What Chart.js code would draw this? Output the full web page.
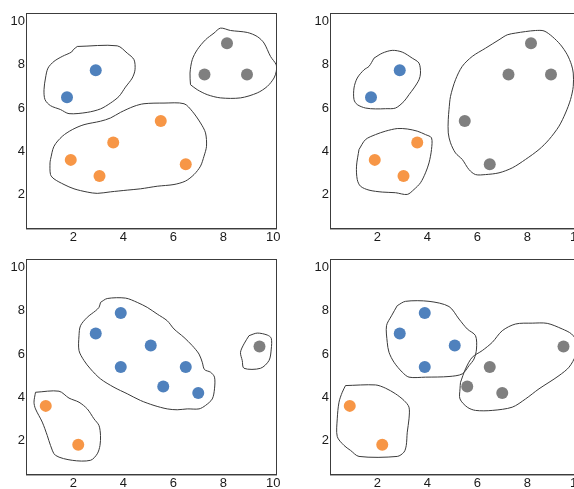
<!DOCTYPE html>
<html>
<head>
<meta charset="utf-8">
<script src="https://cdn.jsdelivr.net/npm/chart.js@4.4.0/dist/chart.umd.min.js"></script>
<style>
  html, body { margin: 0; padding: 0; background: #ffffff; overflow: hidden; width: 574px; height: 489px; }
  .panel { position: absolute; width: 290px; height: 262px; }
</style>
</head>
<body>
<div class="panel" style="left:0px;top:0px;"><canvas id="c1" width="290" height="262"></canvas></div>
<div class="panel" style="left:304px;top:0px;"><canvas id="c2" width="290" height="262"></canvas></div>
<div class="panel" style="left:0px;top:246px;"><canvas id="c3" width="290" height="262"></canvas></div>
<div class="panel" style="left:304px;top:246px;"><canvas id="c4" width="290" height="262"></canvas></div>
<script>
// ---------- tick labels ----------
const xTicks = [2, 4, 6, 8, 10];
const yTicks = [2, 4, 6, 8, 10];

// ---------- series colours ----------
const blueColor = '#4F81BD';
const orangeColor = '#F79646';
const greyColor = '#7F7F7F';

// ---------- panel 1 (top-left) points ----------
const p1Blue = [[1.75, 6.5], [2.9, 7.75]];
const p1Orange = [[5.5, 5.4], [3.6, 4.4], [1.9, 3.6], [3.05, 2.85], [6.5, 3.4]];
const p1Grey = [[8.15, 9.0], [7.25, 7.55], [8.95, 7.55]];

// ---------- panel 2 (top-right) points ----------
const p2Blue = [[1.75, 6.5], [2.9, 7.75]];
const p2Orange = [[1.9, 3.6], [3.05, 2.85], [3.6, 4.4]];
const p2Grey = [[5.5, 5.4], [6.5, 3.4], [7.25, 7.55], [8.15, 9.0], [8.95, 7.55]];

// ---------- panel 3 (bottom-left) points ----------
const p3Blue = [[2.9, 6.95], [3.9, 7.9], [5.1, 6.4], [3.9, 5.4], [6.5, 5.4], [5.6, 4.5], [7.0, 4.2]];
const p3Orange = [[0.9, 3.6], [2.2, 1.8]];
const p3Grey = [[9.45, 6.35]];

// ---------- panel 4 (bottom-right) points ----------
const p4Blue = [[2.9, 6.95], [3.9, 7.9], [5.1, 6.4], [3.9, 5.4]];
const p4Orange = [[0.9, 3.6], [2.2, 1.8]];
const p4Grey = [[6.5, 5.4], [5.6, 4.5], [7.0, 4.2], [9.45, 6.35]];

// ---------- cluster outlines ----------
const h1Blue = [[2.16,8.85],[3.76,8.88],[4.16,8.54],[4.43,8.24],[4.47,7.77],[4.36,7.39],[4.09,6.97],[3.83,6.54],[3.49,6.23],[3.09,5.96],[2.56,5.80],[1.83,5.74],[1.49,5.93],[1.09,6.11],[0.87,6.39],[0.83,6.85],[0.89,7.39],[0.99,7.85],[1.23,8.16],[1.56,8.39],[1.93,8.59],[2.0,8.70]];
const h1Orange = [[1.09,3.62],[1.23,4.23],[1.56,4.69],[1.96,5.00],[2.43,5.23],[3.09,5.39],[3.49,5.54],[3.89,5.80],[4.43,6.08],[4.83,6.20],[5.63,6.23],[6.43,6.20],[6.76,5.85],[7.09,5.31],[7.29,4.85],[7.33,4.23],[7.23,3.77],[7.09,3.31],[6.83,2.92],[6.49,2.62],[6.03,2.46],[5.36,2.38],[4.69,2.26],[4.16,2.20],[3.49,2.12],[2.96,2.05],[2.56,2.11],[2.03,2.26],[1.63,2.46],[1.23,2.72],[1.09,2.92],[1.07,3.46]];
const h1Grey = [[6.69,7.08],[6.67,7.62],[6.76,8.24],[6.96,8.70],[7.29,9.16],[7.63,9.47],[7.89,9.70],[8.29,9.59],[8.96,9.50],[9.36,9.31],[9.63,9.01],[9.89,8.39],[10.12,8.00],[10.12,7.70],[10.03,7.39],[9.76,7.00],[9.36,6.70],[8.69,6.47],[7.89,6.47],[7.36,6.62],[6.96,6.85]];

const h2Blue = [[1.87,8.31],[2.20,8.54],[2.60,8.67],[3.00,8.59],[3.40,8.31],[3.67,8.08],[3.73,7.62],[3.67,7.31],[3.47,6.93],[3.27,6.62],[3.07,6.31],[2.73,6.00],[2.33,5.97],[1.93,5.96],[1.53,6.00],[1.20,6.16],[1.07,6.39],[1.07,6.93],[1.20,7.39],[1.47,7.77],[1.67,7.93]];
const h2Orange = [[1.27,4.08],[1.53,4.54],[1.93,4.77],[2.33,4.93],[2.80,5.05],[3.20,5.03],[3.60,4.93],[3.93,4.77],[4.17,4.62],[4.17,4.08],[4.07,3.46],[3.93,3.00],[3.73,2.54],[3.47,2.23],[3.20,2.00],[2.73,2.08],[2.20,2.11],[1.67,2.20],[1.33,2.38],[1.20,2.69],[1.17,3.31]];
const h2Grey = [[4.87,5.93],[4.93,6.54],[5.13,7.31],[5.40,7.93],[5.80,8.39],[6.33,8.77],[6.87,9.16],[7.20,9.39],[7.53,9.47],[7.93,9.54],[8.33,9.59],[8.67,9.57],[9.00,9.31],[9.33,8.93],[9.60,8.47],[9.77,8.00],[9.84,7.62],[9.84,7.00],[9.73,6.39],[9.53,5.77],[9.27,5.16],[8.87,4.54],[8.47,4.08],[7.93,3.62],[7.40,3.23],[6.87,3.00],[6.33,2.92],[5.93,2.92],[5.67,3.15],[5.40,3.62],[5.13,3.92],[4.93,4.39],[4.84,4.85],[4.84,5.46]];

const h3Blue = [[3.09,8.39],[3.36,8.57],[4.09,8.59],[4.56,8.39],[4.96,8.16],[5.36,7.85],[5.76,7.54],[6.03,7.16],[6.43,6.77],[6.76,6.39],[7.03,6.00],[7.16,5.62],[7.25,5.28],[7.49,5.16],[7.65,4.93],[7.65,4.39],[7.56,3.92],[7.29,3.62],[7.03,3.46],[6.56,3.46],[6.16,3.42],[5.76,3.46],[5.23,3.62],[4.69,3.85],[4.16,4.16],[3.63,4.46],[3.09,4.85],[2.69,5.31],[2.43,5.70],[2.23,6.16],[2.23,6.85],[2.29,7.31],[2.56,7.70],[2.89,8.00],[3.03,8.16]];
const h3Orange = [[0.49,4.23],[1.43,4.28],[1.83,3.96],[2.23,3.77],[2.56,3.46],[2.83,3.00],[3.03,2.69],[3.09,2.23],[3.07,1.77],[2.96,1.38],[2.69,1.08],[1.96,1.08],[1.29,1.31],[1.09,1.77],[0.96,2.23],[0.76,2.85],[0.49,3.46],[0.43,3.77]];
const h3Grey = [[9.03,6.85],[9.36,6.97],[9.76,6.88],[9.92,6.73],[9.92,6.23],[9.83,5.70],[9.49,5.34],[8.83,5.34],[8.76,5.70],[8.69,6.08],[8.83,6.47]];

const h4Blue = [[2.80,8.24],[3.13,8.44],[4.07,8.44],[4.87,8.20],[5.27,7.62],[5.60,7.16],[5.93,6.85],[5.97,6.23],[5.87,5.77],[5.67,5.46],[5.40,5.08],[4.87,4.96],[3.93,4.93],[3.27,4.93],[3.00,5.16],[2.67,5.62],[2.47,6.08],[2.40,6.54],[2.37,7.31],[2.57,7.77]];
const h4Orange = [[0.73,4.54],[1.93,4.57],[2.33,4.42],[2.73,4.16],[3.07,3.85],[3.27,3.54],[3.27,3.00],[3.20,2.38],[3.16,1.77],[3.07,1.46],[2.80,1.26],[1.27,1.26],[0.93,1.54],[0.67,1.77],[0.40,2.18],[0.40,3.00],[0.47,3.77],[0.60,4.23]];
const h4Grey = [[5.33,4.69],[5.53,5.31],[5.80,5.85],[6.20,6.16],[6.60,6.54],[7.00,7.08],[7.53,7.39],[8.20,7.43],[8.80,7.42],[9.40,7.16],[9.77,6.93],[10.0,6.54],[9.93,5.93],[9.67,5.39],[9.27,5.00],[8.87,4.69],[8.47,4.39],[7.93,3.92],[7.40,3.54],[6.60,3.39],[5.93,3.39],[5.60,3.54],[5.31,3.92],[5.31,4.39]];

// ---------- drawing ----------
const toXY = arr => arr.map(p => ({ x: p[0], y: p[1] }));
const closed = arr => toXY(arr.concat([arr[0]]));

const frame = {
  id: 'frame',
  afterDraw(chart) {
    const a = chart.chartArea, ctx = chart.ctx;
    const l = Math.round(a.left) - 0.5, t = Math.round(a.top) + 0.5;
    const r = Math.round(a.right) - 0.5, b = Math.round(a.bottom) - 0.5;
    ctx.save();
    ctx.lineWidth = 1;
    ctx.strokeStyle = '#3c3c3c';
    ctx.strokeRect(l, t, r - l, b - t);
    ctx.strokeStyle = '#a8a8a8';
    ctx.beginPath();
    ctx.moveTo(l - 0.5, b + 1); ctx.lineTo(r + 0.5, b + 1);
    ctx.stroke();
    ctx.restore();
  }
};

function makeChart(id, groups, hulls) {
  const datasets = [];
  groups.forEach(g => datasets.push({
    data: toXY(g.pts), backgroundColor: g.color, borderWidth: 0,
    pointRadius: 6, pointHoverRadius: 6, showLine: false
  }));
  hulls.forEach(h => datasets.push({
    data: closed(h), showLine: true, pointRadius: 0, pointHoverRadius: 0,
    borderColor: '#3a3a3a', borderWidth: 1, tension: 0.3, fill: false
  }));
  const tickFont = { family: '"Liberation Sans", Arial, sans-serif', size: 13 };
  return new Chart(document.getElementById(id), {
    type: 'scatter',
    data: { datasets },
    options: {
      responsive: false, animation: false,
      layout: { padding: { top: 13, right: 13, left: 0, bottom: 11 } },
      plugins: { legend: { display: false }, tooltip: { enabled: false } },
      events: [],
      scales: {
        x: {
          type: 'linear', min: 0.15, max: 10.15,
          grid: { display: false, drawTicks: false }, border: { display: false },
          afterBuildTicks: s => { s.ticks = xTicks.map(v => ({ value: v })); },
          afterFit: s => { s.height = 22; },
          ticks: { font: tickFont, color: '#1a1a1a', padding: 1, maxRotation: 0, autoSkip: false }
        },
        y: {
          type: 'linear', min: 0.4, max: 10.4,
          grid: { display: false, drawTicks: false }, border: { display: false },
          afterBuildTicks: s => { s.ticks = yTicks.map(v => ({ value: v })); },
          afterFit: s => { s.width = 27; },
          ticks: { font: tickFont, color: '#1a1a1a', padding: 2, autoSkip: false }
        }
      }
    },
    plugins: [frame]
  });
}

makeChart('c1',
  [{ pts: p1Blue, color: blueColor }, { pts: p1Orange, color: orangeColor }, { pts: p1Grey, color: greyColor }],
  [h1Blue, h1Orange, h1Grey]);
makeChart('c2',
  [{ pts: p2Blue, color: blueColor }, { pts: p2Orange, color: orangeColor }, { pts: p2Grey, color: greyColor }],
  [h2Blue, h2Orange, h2Grey]);
makeChart('c3',
  [{ pts: p3Blue, color: blueColor }, { pts: p3Orange, color: orangeColor }, { pts: p3Grey, color: greyColor }],
  [h3Blue, h3Orange, h3Grey]);
makeChart('c4',
  [{ pts: p4Blue, color: blueColor }, { pts: p4Orange, color: orangeColor }, { pts: p4Grey, color: greyColor }],
  [h4Blue, h4Orange, h4Grey]);
</script>
</body>
</html>
